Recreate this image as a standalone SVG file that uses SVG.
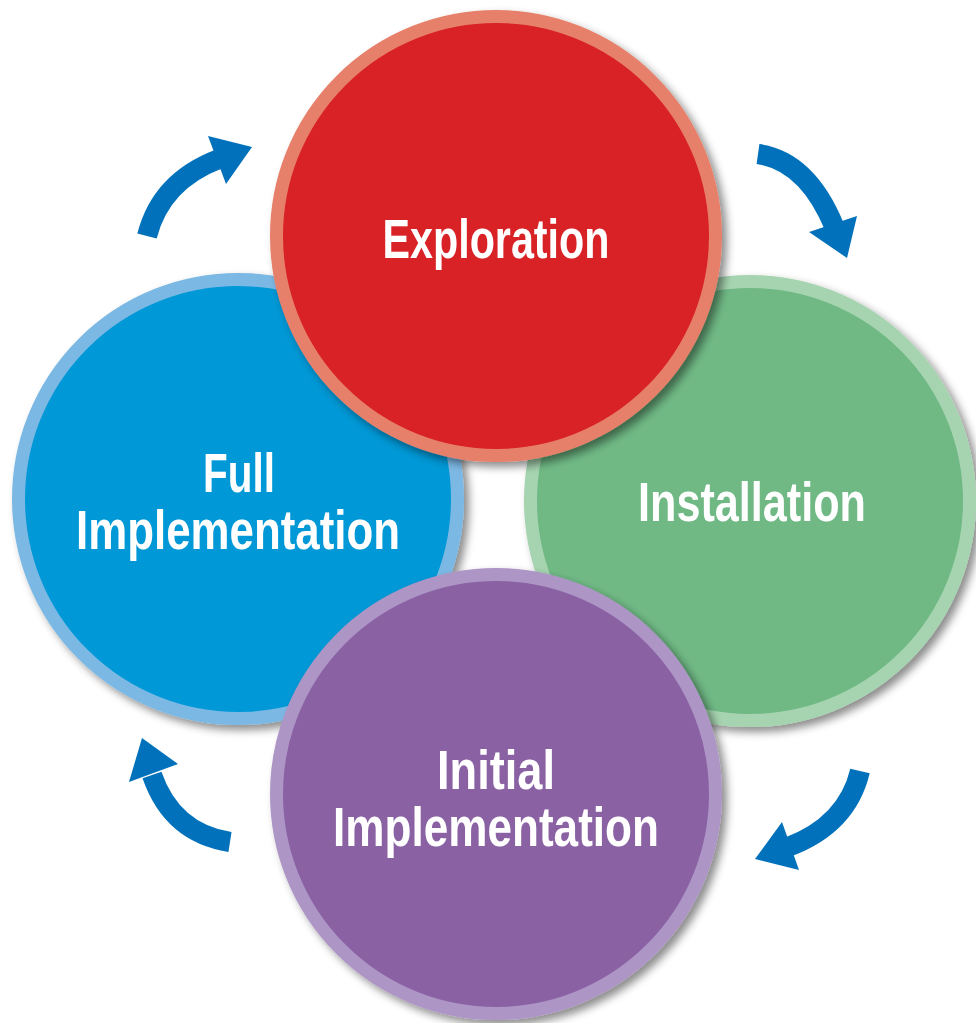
<svg xmlns="http://www.w3.org/2000/svg" width="976" height="1023" viewBox="0 0 976 1023">
<defs>
<filter id="sh" x="-20%" y="-20%" width="140%" height="140%">
<feDropShadow dx="5" dy="5" stdDeviation="4" flood-color="#000" flood-opacity="0.45"/>
</filter>
</defs>
<style>
.lbl{font-family:"Liberation Sans",Arial,sans-serif;font-weight:bold;font-size:55px;fill:#fff;text-anchor:middle}
.arr{fill:none;stroke:#0071BA;stroke-width:20;stroke-linecap:butt}
.head{fill:#0071BA}
.ring{stroke-width:13}
</style>
<rect width="976" height="1023" fill="#fff"/>
<g id="full-implementation" filter="url(#sh)">
<circle class="ring" cx="238" cy="499" r="219.5" fill="#0098D6" stroke="#7CB8E4"/>
<text class="lbl" x="239" y="492" textLength="72" lengthAdjust="spacingAndGlyphs">Full</text>
<text class="lbl" x="238" y="549" textLength="324" lengthAdjust="spacingAndGlyphs">Implementation</text>
</g>
<g id="installation" filter="url(#sh)">
<circle class="ring" cx="750" cy="501" r="219.5" fill="#6FB985" stroke="#A6D4B0"/>
<text class="lbl" x="752" y="521" textLength="228" lengthAdjust="spacingAndGlyphs">Installation</text>
</g>
<g id="exploration" filter="url(#sh)">
<circle class="ring" cx="496" cy="236" r="219.5" fill="#D82027" stroke="#E6806A"/>
<text class="lbl" x="496" y="258" textLength="227" lengthAdjust="spacingAndGlyphs">Exploration</text>
</g>
<g id="initial-implementation" filter="url(#sh)">
<circle class="ring" cx="496" cy="794" r="219.5" fill="#8A62A4" stroke="#AD95C6"/>
<text class="lbl" x="496" y="789" textLength="118" lengthAdjust="spacingAndGlyphs">Initial</text>
<text class="lbl" x="496" y="846" textLength="326" lengthAdjust="spacingAndGlyphs">Implementation</text>
</g>
<g id="connectors">
<path class="arr" d="M147,236 Q161,181 219,159"/>
<polygon class="head" points="208,136 252,147 226,184"/>
<path class="arr" d="M758,154 Q807,161 834,226"/>
<polygon class="head" points="809,232 857,216 847,258"/>
<path class="arr" d="M860,771 Q847,825 788,847"/>
<polygon class="head" points="782,822 799,870 755,859"/>
<path class="arr" d="M230,842 Q172,833 152,775"/>
<polygon class="head" points="129,782 178,764 142,738"/>
</g>
</svg>
